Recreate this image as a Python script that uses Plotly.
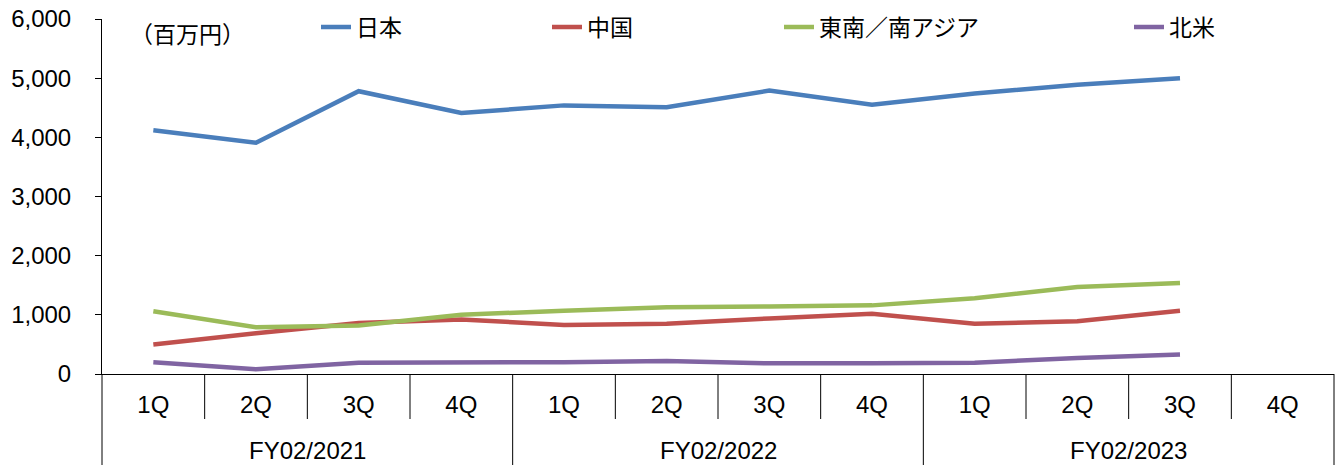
import plotly.graph_objects as go

fiscal_years = ["FY02/2021", "FY02/2022", "FY02/2023"]
quarters = ["1Q", "2Q", "3Q", "4Q"]

japan = [4120, 3910, 4780, 4410, 4540, 4510, 4790, 4550, 4740, 4890, 5000, None]
china = [500, 690, 860, 920, 830, 850, 940, 1020, 850, 890, 1070, None]
se_asia = [1060, 790, 820, 1000, 1070, 1130, 1140, 1160, 1280, 1470, 1540, None]
north_america = [200, 80, 190, 190, 200, 220, 180, 180, 190, 270, 330, None]

series_names = ["日本", "中国", "東南／南アジア", "北米"]
series_values = [japan, china, se_asia, north_america]
series_colors = ["#4A7EBB", "#C0504D", "#9BBB59", "#8064A2"]

y_ticks = [0, 1000, 2000, 3000, 4000, 5000, 6000]
unit_label = "（百万円）"

x_keys = [f"{fy} {q}" for fy in fiscal_years for q in quarters]
x_inner = [q for _ in fiscal_years for q in quarters]

W, H = 1338, 468
L, R, T, B = 102, 4, 19, 94
plot_w = W - L - R
plot_h = H - T - B
Y0 = H - B  # pixel row of the x axis

FONT = "Liberation Sans, Arial, Noto Sans CJK JP, sans-serif"
CJK = "Noto Sans CJK JP, Liberation Sans, sans-serif"

fig = go.Figure()
legend_text_px = [357, 588, 820, 1170]
legend_ids = ["legend", "legend2", "legend3", "legend4"]
for name, vals, col, lid in zip(series_names, series_values, series_colors, legend_ids):
    fig.add_trace(go.Scatter(
        x=x_keys, y=vals, name=name, mode="lines", showlegend=True,
        line=dict(color=col, width=4.5), legend=lid, connectgaps=False,
    ))

layout_legends = {}
for lid, tx in zip(legend_ids, legend_text_px):
    layout_legends[lid] = dict(
        x=(tx - 41 - L) / plot_w, xanchor="left",
        y=(Y0 - 27) / plot_h, yanchor="middle",
        orientation="h", bgcolor="rgba(0,0,0,0)", borderwidth=0,
        font=dict(family=CJK, size=23, color="#000000"),
    )

n = len(x_keys)
shapes = []
for k in range(0, n + 1):
    long_div = (k % len(quarters) == 0)
    bottom_px = 465 if long_div else 419
    shapes.append(dict(type="line", xref="paper", yref="paper",
                       x0=k / n, x1=k / n, y0=0, y1=-(bottom_px - Y0) / plot_h,
                       line=dict(color="#000000", width=1)))

annotations = [dict(text=unit_label, xref="paper", yref="paper",
                    x=(128 - L) / plot_w, y=(Y0 - 33) / plot_h,
                    xanchor="left", yanchor="middle", showarrow=False,
                    font=dict(family=CJK, size=23, color="#000000"))]
for g, fy in enumerate(fiscal_years):
    annotations.append(dict(
        text=fy, xref="paper", yref="paper",
        x=(g * len(quarters) + len(quarters) / 2) / n,
        y=-(450 - Y0) / plot_h, xanchor="center", yanchor="middle",
        showarrow=False, font=dict(family=FONT, size=24, color="#000000")))

fig.update_layout(
    width=W, height=H,
    margin=dict(l=L, r=R, t=T, b=B, pad=0),
    paper_bgcolor="white", plot_bgcolor="white",
    font=dict(family=FONT, size=24, color="#000000"),
    showlegend=True,
    shapes=shapes,
    annotations=annotations,
    **layout_legends,
)
fig.update_xaxes(
    type="category", categoryorder="array", categoryarray=x_keys,
    tickmode="array", tickvals=x_keys, ticktext=x_inner,
    showline=True, linecolor="#000000", linewidth=1,
    showgrid=False, ticks="", ticklabelstandoff=9,
    tickfont=dict(family=FONT, size=24, color="#000000"),
    range=[-0.5, n - 0.5],
)
fig.update_yaxes(
    range=[0, 6000], tickvals=y_ticks, tickformat=",", showline=True,
    linecolor="#000000", linewidth=1, ticks="outside", ticklen=6,
    tickcolor="#000000", showgrid=False, zeroline=False,
    ticklabelstandoff=19, tickfont=dict(family=FONT, size=24, color="#000000"),
)

fig.write_html("out.html")
